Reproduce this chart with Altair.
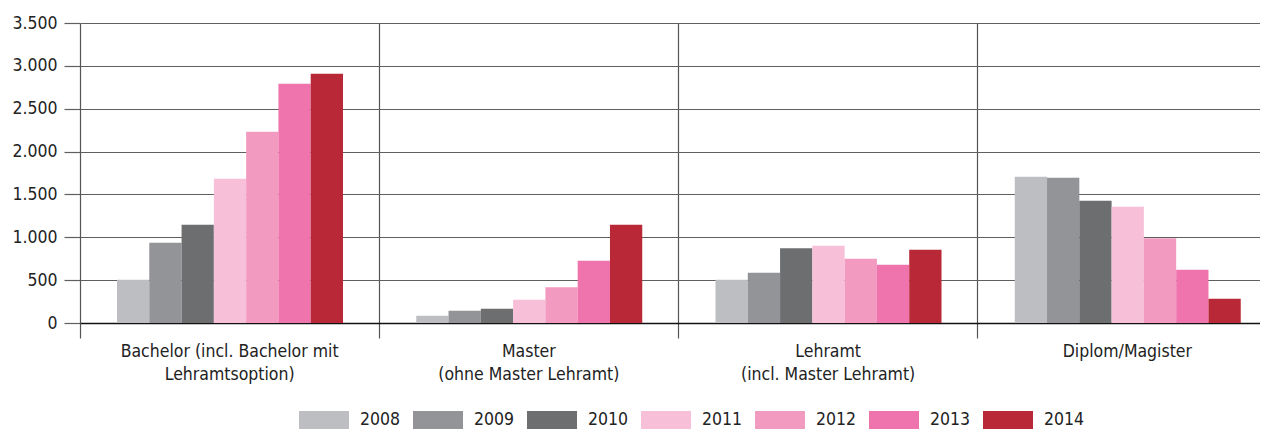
import altair as alt
import pandas as pd

categories = [
    "Bachelor (incl. Bachelor mit\nLehramtsoption)",
    "Master\n(ohne Master Lehramt)",
    "Lehramt\n(incl. Master Lehramt)",
    "Diplom/Magister",
]
years = ["2008", "2009", "2010", "2011", "2012", "2013", "2014"]
bachelor = [505, 937, 1147, 1684, 2232, 2792, 2909]
master = [86, 144, 167, 272, 416, 727, 1147]
lehramt = [506, 587, 871, 902, 751, 681, 856]
diplom = [1707, 1696, 1427, 1357, 988, 622, 284]
colors = ["#BDBEC1", "#939497", "#6D6E70", "#F7C0D8", "#F39AC1", "#EF73AC", "#B82837"]
y_ticks = [0, 500, 1000, 1500, 2000, 2500, 3000, 3500]

series = [bachelor, master, lehramt, diplom]
rows = []
for cat, vals in zip(categories, series):
    for yr, v in zip(years, vals):
        rows.append({"Abschluss": cat, "Jahr": yr, "Wert": v})
df = pd.DataFrame(rows)

FONT = "DejaVu Sans Condensed, Liberation Sans, sans-serif"

chart = (
    alt.Chart(df)
    .mark_bar()
    .encode(
        x=alt.X(
            "Abschluss:N",
            sort=categories,
            scale=alt.Scale(range=[0, 1197], paddingInner=0, paddingOuter=0),
            axis=alt.Axis(
                title=None,
                bandPosition=0,
                grid=True,
                gridColor="#555555",
                gridWidth=1.2,
                tickSize=15,
                tickColor="#555555",
                tickWidth=1.2,
                domainColor="#111111",
                domainWidth=1.5,
                labelExpr="split(datum.label, '\\n')",
                labelAngle=0,
                labelFont=FONT,
                labelFontSize=17.5,
                labelLineHeight=23,
                labelPadding=4,
                labelColor="#222222",
                labelLimit=400,
            ),
        ),
        xOffset=alt.XOffset(
            "Jahr:N", sort=years,
            scale=alt.Scale(range=[37, 263], paddingInner=0, paddingOuter=0),
        ),
        y=alt.Y(
            "Wert:Q",
            scale=alt.Scale(domain=[0, 3500], nice=False),
            axis=alt.Axis(
                title=None,
                values=y_ticks,
                labelExpr="replace(format(datum.value, ','), ',', '.')",
                domain=False,
                grid=True,
                gridColor="#5f5f5f",
                gridWidth=1.2,
                tickSize=16,
                tickColor="#5f5f5f",
                tickWidth=1.2,
                labelPadding=7,
                labelFont=FONT,
                labelFontSize=17.5,
                labelColor="#222222",
            ),
        ),
        color=alt.Color(
            "Jahr:N",
            sort=years,
            scale=alt.Scale(domain=years, range=colors),
            legend=alt.Legend(
                title=None,
                orient="none",
                legendX=219,
                legendY=372,
                direction="horizontal",
                columns=7,
                gridAlign="all",
                symbolType="M-1,-0.36L1,-0.36L1,0.36L-1,0.36Z",
                symbolSize=2500,
                symbolStrokeWidth=0,
                symbolOpacity=1,
                labelFont=FONT,
                labelFontSize=17.5,
                labelColor="#222222",
                labelOffset=11,
                columnPadding=12,
                padding=0,
            ),
        ),
    )
    .properties(
        width=1180,
        height=300,
        autosize=alt.AutoSizeParams(type="none"),
        padding={"left": 72, "top": 15, "right": 0, "bottom": 110},
    )
    .configure_view(strokeWidth=0)
)

chart.save("out.html", embed_options={"renderer": "svg", "actions": False})
